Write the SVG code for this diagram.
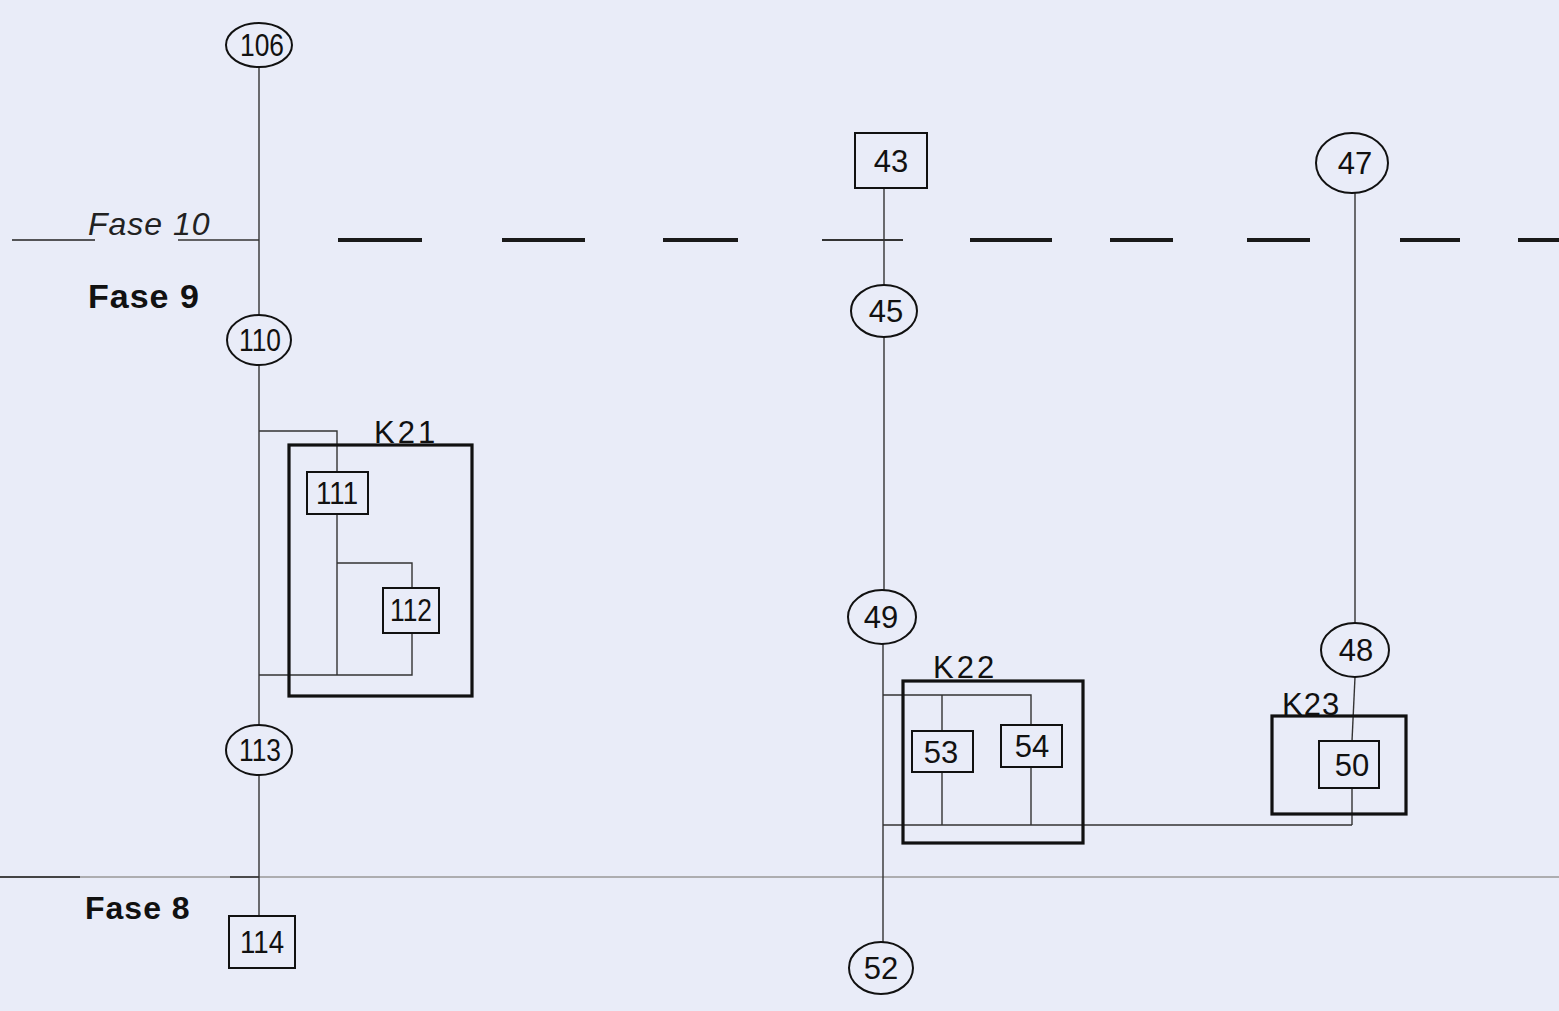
<svg xmlns="http://www.w3.org/2000/svg" width="1559" height="1011" viewBox="0 0 1559 1011">
<style>
.bg{fill:#e9ecf8}
.n{fill:none;stroke:#111;stroke-width:2}
.c{fill:none;stroke:#333;stroke-width:1.4}
.k{fill:none;stroke:#111;stroke-width:3.2}
.t{font-family:"Liberation Sans",sans-serif;font-size:31px;fill:#111;text-anchor:middle}
.kl{font-family:"Liberation Sans",sans-serif;font-size:31px;fill:#111;letter-spacing:3px}
.fb{font-family:"Liberation Sans",sans-serif;font-size:34px;font-weight:bold;fill:#111;letter-spacing:1px}
.fi{font-family:"Liberation Sans",sans-serif;font-size:32px;font-style:italic;fill:#222;letter-spacing:1px}
.dash{stroke:#1a1a1a;stroke-width:4}
</style>
<rect class="bg" x="0" y="0" width="1559" height="1011"/>
<g id="phases">
<line x1="12" y1="240" x2="95" y2="240" stroke="#222" stroke-width="1.4"/>
<line x1="178" y1="240" x2="259" y2="240" stroke="#333" stroke-width="1.4"/>
<text class="fi" x="88" y="235">Fase 10</text>
<line class="dash" x1="338" y1="240" x2="422" y2="240"/>
<line class="dash" x1="502" y1="240" x2="585" y2="240"/>
<line class="dash" x1="663" y1="240" x2="738" y2="240"/>
<line x1="822" y1="240" x2="903" y2="240" stroke="#333" stroke-width="1.8"/>
<line class="dash" x1="970" y1="240" x2="1052" y2="240"/>
<line class="dash" x1="1110" y1="240" x2="1173" y2="240"/>
<line class="dash" x1="1247" y1="240" x2="1310" y2="240"/>
<line class="dash" x1="1400" y1="240" x2="1460" y2="240"/>
<line class="dash" x1="1518" y1="240" x2="1559" y2="240"/>
<text class="fb" x="88" y="308">Fase 9</text>
<line x1="0" y1="877" x2="1559" y2="877" stroke="#999" stroke-width="1.4"/>
<line x1="0" y1="877" x2="80" y2="877" stroke="#222" stroke-width="1.4"/>
<line x1="230" y1="877" x2="259" y2="877" stroke="#222" stroke-width="1.4"/>
<text class="fb" x="85" y="919" style="font-size:32px">Fase 8</text>
</g>
<g id="connectors">
<line class="c" x1="259" y1="67" x2="259" y2="315"/>
<line class="c" x1="259" y1="365" x2="259" y2="725"/>
<polyline class="c" points="259,431 337,431 337,472"/>
<line class="c" x1="337" y1="514" x2="337" y2="675"/>
<polyline class="c" points="337,563 412,563 412,588"/>
<polyline class="c" points="412,633 412,675 259,675"/>
<line class="c" x1="259" y1="775" x2="259" y2="916"/>
<line class="c" x1="884" y1="188" x2="884" y2="285"/>
<line class="c" x1="884" y1="337" x2="884" y2="590"/>
<line class="c" x1="883" y1="644" x2="883" y2="942"/>
<polyline class="c" points="883,695 1031,695 1031,725"/>
<line class="c" x1="942" y1="695" x2="942" y2="731"/>
<line class="c" x1="942" y1="772" x2="942" y2="825"/>
<line class="c" x1="1031" y1="767" x2="1031" y2="825"/>
<line class="c" x1="883" y1="825" x2="1352" y2="825"/>
<line class="c" x1="1355" y1="193" x2="1355" y2="623"/>
<line class="c" x1="1355" y1="677" x2="1352" y2="741"/>
<line class="c" x1="1352" y1="788" x2="1352" y2="825"/>
</g>
<g id="K21"><rect class="k" x="289" y="445" width="183" height="251"/><text class="kl" x="374" y="443">K21</text></g>
<g id="K22"><rect class="k" x="903" y="681" width="180" height="162"/><text class="kl" x="933" y="678">K22</text></g>
<g id="K23"><rect class="k" x="1272" y="716" width="134" height="98"/><text class="kl" x="1282" y="715" style="letter-spacing:1px">K23</text></g>
<g id="n106"><ellipse class="n" cx="259" cy="45" rx="33" ry="22"/><text class="t" x="262" y="56" textLength="44" lengthAdjust="spacingAndGlyphs">106</text></g>
<g id="n110"><ellipse class="n" cx="259" cy="340" rx="32" ry="25"/><text class="t" x="260" y="351" textLength="42" lengthAdjust="spacingAndGlyphs">110</text></g>
<g id="n111"><rect class="n" x="307" y="472" width="61" height="42"/><text class="t" x="337" y="504" textLength="42" lengthAdjust="spacingAndGlyphs">111</text></g>
<g id="n112"><rect class="n" x="383" y="588" width="56" height="45"/><text class="t" x="411" y="621" textLength="42" lengthAdjust="spacingAndGlyphs">112</text></g>
<g id="n113"><ellipse class="n" cx="259" cy="750" rx="33" ry="25"/><text class="t" x="260" y="761" textLength="42" lengthAdjust="spacingAndGlyphs">113</text></g>
<g id="n114"><rect class="n" x="229" y="916" width="66" height="52"/><text class="t" x="262" y="953" textLength="44" lengthAdjust="spacingAndGlyphs">114</text></g>
<g id="n43"><rect class="n" x="855" y="133" width="72" height="55"/><text class="t" x="891" y="172">43</text></g>
<g id="n45"><ellipse class="n" cx="884" cy="311" rx="33" ry="26"/><text class="t" x="886" y="322">45</text></g>
<g id="n49"><ellipse class="n" cx="882" cy="617" rx="34" ry="27"/><text class="t" x="881" y="628">49</text></g>
<g id="n52"><ellipse class="n" cx="881" cy="968" rx="32" ry="26"/><text class="t" x="881" y="979">52</text></g>
<g id="n53"><rect class="n" x="912" y="731" width="61" height="41"/><text class="t" x="941" y="763">53</text></g>
<g id="n54"><rect class="n" x="1001" y="725" width="61" height="42"/><text class="t" x="1032" y="757">54</text></g>
<g id="n47"><ellipse class="n" cx="1352" cy="163" rx="36" ry="30"/><text class="t" x="1355" y="174">47</text></g>
<g id="n48"><ellipse class="n" cx="1355" cy="650" rx="34" ry="27"/><text class="t" x="1356" y="661">48</text></g>
<g id="n50"><rect class="n" x="1319" y="741" width="60" height="47"/><text class="t" x="1352" y="776">50</text></g>
</svg>
